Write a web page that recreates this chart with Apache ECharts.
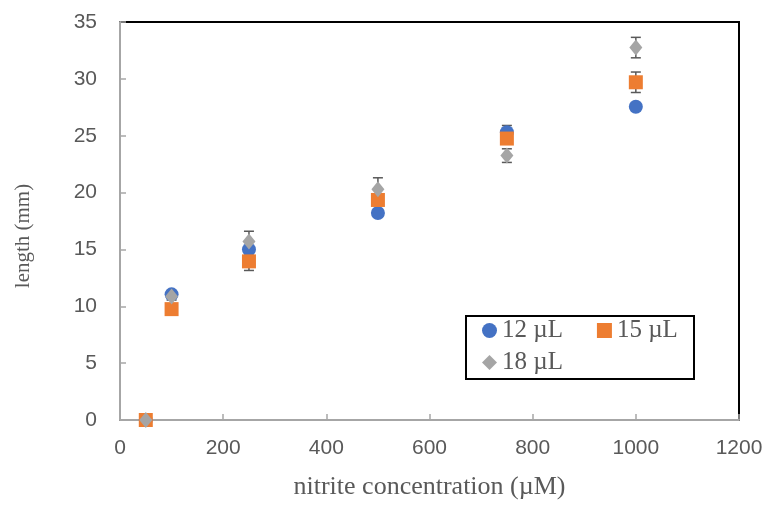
<!DOCTYPE html>
<html>
<head>
<meta charset="utf-8">
<script src="https://cdn.jsdelivr.net/npm/echarts@6/dist/echarts.min.js"></script>
<style>html,body{margin:0;padding:0;background:#fff;overflow:hidden}#c{width:766px;height:505px}</style>
</head>
<body>
<div id="c"></div>
<script>
const xValues = [50, 100, 250, 500, 750, 1000];
const names = ['12 µL', '15 µL', '18 µL'];
const s12 = [0, 11.05, 15.0, 18.2, 25.3, 27.55];
const s15 = [0, 9.75, 13.95, 19.35, 24.75, 29.7];
const s18 = [0, 10.85, 15.7, 20.3, 23.25, 32.75];
const err12 = [0, 0.3, 0.3, 0.3, 0.6, 0.3];
const err15 = [0, 0.3, 0.8, 0.4, 0.5, 0.9];
const err18 = [0, 0.3, 0.9, 1.0, 0.6, 0.9];

const colors = ['#4472c4', '#ed7d31', '#a5a5a5'];
const symbols = ['circle', 'rect', 'diamond'];
const sizes = [14, 14, [13, 16]];
const allVals = [s12, s15, s18];
const allErr = [err12, err15, err18];

const chart = echarts.init(document.getElementById('c'), null, {renderer: 'canvas'});
const series = [];
allVals.forEach((vals, i) => {
  series.push({
    type: 'custom',
    z: 1,
    silent: true,
    data: xValues.map((x, k) => [x, vals[k] - allErr[i][k], vals[k] + allErr[i][k]]),
    renderItem: function (params, api) {
      const x = api.value(0);
      const lo = api.coord([x, api.value(1)]);
      const hi = api.coord([x, api.value(2)]);
      const hw = 5;
      const st = {stroke: '#595959', lineWidth: 1.5};
      return {
        type: 'group',
        children: [
          {type: 'line', shape: {x1: hi[0], y1: hi[1], x2: lo[0], y2: lo[1]}, style: st},
          {type: 'line', shape: {x1: hi[0] - hw, y1: hi[1], x2: hi[0] + hw, y2: hi[1]}, style: st},
          {type: 'line', shape: {x1: lo[0] - hw, y1: lo[1], x2: lo[0] + hw, y2: lo[1]}, style: st}
        ]
      };
    }
  });
});
allVals.forEach((vals, i) => {
  series.push({
    name: names[i],
    type: 'scatter',
    z: 2 + i,
    symbol: symbols[i],
    symbolSize: sizes[i],
    itemStyle: {color: colors[i], opacity: 1},
    data: xValues.map((x, k) => [x, vals[k]])
  });
});

const legendText = {fontFamily: 'Liberation Serif', fontSize: 25, color: '#595959'};
chart.setOption({
  animation: false,
  backgroundColor: '#fff',
  grid: {left: 120, right: 27, top: 22, bottom: 83, show: true, borderColor: '#000', borderWidth: 2, backgroundColor: 'transparent'},
  xAxis: {
    type: 'value', min: 0, max: 1200, interval: 200,
    name: 'nitrite concentration (µM)', nameLocation: 'middle', nameGap: 54,
    nameTextStyle: {fontFamily: 'Liberation Serif', fontSize: 26, color: '#595959'},
    axisLine: {show: true, lineStyle: {color: '#a6a6a6', width: 2}},
    axisTick: {show: true, inside: true, length: 6, lineStyle: {color: '#a6a6a6', width: 1.5}},
    axisLabel: {fontFamily: 'Liberation Sans', fontSize: 21, color: '#595959', margin: 18, formatter: v => String(v)},
    splitLine: {show: false}
  },
  yAxis: {
    type: 'value', min: 0, max: 35, interval: 5,
    name: 'length (mm)', nameLocation: 'middle', nameGap: 86,
    nameTextStyle: {fontFamily: 'Liberation Serif', fontSize: 21, color: '#595959', padding: [0, 30, 0, 0]},
    axisLine: {show: true, lineStyle: {color: '#a6a6a6', width: 2}},
    axisTick: {show: true, inside: true, length: 6, lineStyle: {color: '#a6a6a6', width: 1.5}},
    axisLabel: {fontFamily: 'Liberation Sans', fontSize: 21, color: '#595959', margin: 23},
    splitLine: {show: false}
  },
  legend: [
    {data: [{name: names[0], icon: 'circle'}, {name: names[1], icon: 'rect'}], left: 482, top: 318, itemWidth: 15, itemHeight: 15, itemGap: 34, textStyle: legendText, padding: 0, selectedMode: false},
    {data: [{name: names[2], icon: 'diamond'}], left: 482, top: 350, itemWidth: 15, itemHeight: 15, textStyle: legendText, padding: 0, selectedMode: false}
  ],
  graphic: [{type: 'rect', left: 465, top: 315, shape: {width: 228, height: 63}, style: {fill: 'transparent', stroke: '#000', lineWidth: 2}, z: 0}],
  series: series
});
</script>
</body>
</html>
